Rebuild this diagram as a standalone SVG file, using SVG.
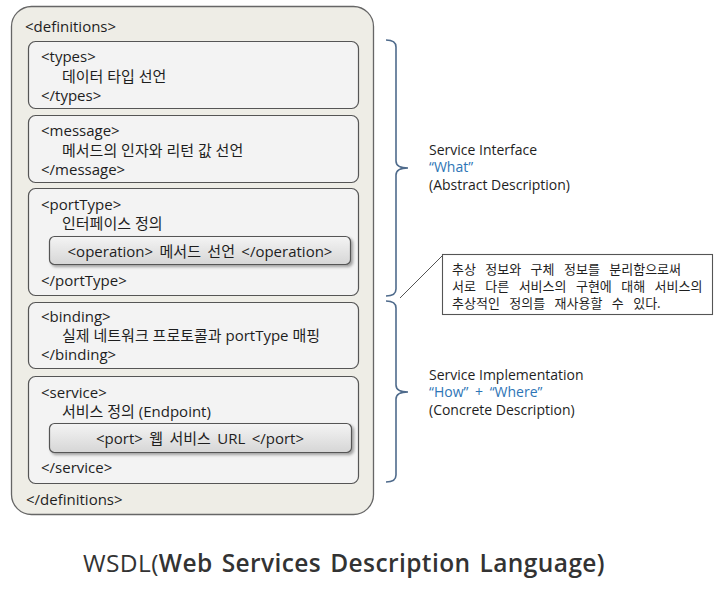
<svg xmlns="http://www.w3.org/2000/svg" width="720" height="592" viewBox="0 0 720 592">
<defs>
<linearGradient id="g" x1="0" y1="0" x2="0" y2="1">
<stop offset="0" stop-color="#f4f4f4"/>
<stop offset="1" stop-color="#d6d6d6"/>
</linearGradient>
<filter id="sh" x="-5%" y="-20%" width="110%" height="150%">
<feGaussianBlur in="SourceAlpha" stdDeviation="1.5"/>
<feOffset dx="1.5" dy="2" result="o"/>
<feComponentTransfer><feFuncA type="linear" slope="0.35"/></feComponentTransfer>
<feMerge><feMergeNode/><feMergeNode in="SourceGraphic"/></feMerge>
</filter>
</defs>
<style>
.t{font-family:"Open Sans","Noto Sans CJK KR",sans-serif;font-size:15px;fill:#1e1e1e}
.w{word-spacing:2.5px}
.r{font-family:"Open Sans","Noto Sans CJK KR",sans-serif;font-size:14px;fill:#1e1e1e}
.q{fill:#2e75b6}
.c{font-family:"Noto Sans CJK KR",sans-serif;font-size:13px;fill:#1e1e1e;word-spacing:6.5px}
.box{fill:#f3f3f3;stroke:#555;stroke-width:1.2}
.op{fill:url(#g);stroke:#555;stroke-width:1.2;filter:url(#sh)}
.br{fill:none;stroke:#4f6b8c;stroke-width:1.6}
</style>
<rect width="720" height="592" fill="#ffffff"/>
<g id="definitions">
<rect x="11.5" y="6.5" width="362" height="508" rx="20" fill="#eeede6" stroke="#666" stroke-width="1.3"/>
<text class="t" x="25" y="32">&lt;definitions&gt;</text>
<text class="t" x="26" y="505">&lt;/definitions&gt;</text>
</g>
<g id="types">
<rect class="box" x="28.5" y="41.5" width="330" height="67" rx="7"/>
<text class="t" x="41" y="62">&lt;types&gt;</text>
<text class="t" x="62" y="82">데이터 타입 선언</text>
<text class="t" x="41" y="101">&lt;/types&gt;</text>
</g>
<g id="message">
<rect class="box" x="28.5" y="115.5" width="330" height="67" rx="7"/>
<text class="t" x="41" y="136">&lt;message&gt;</text>
<text class="t" x="62" y="156">메서드의 인자와 리턴 값 선언</text>
<text class="t" x="41" y="175">&lt;/message&gt;</text>
</g>
<g id="portType">
<rect class="box" x="28.5" y="188.5" width="330" height="107" rx="7"/>
<text class="t" x="41" y="210">&lt;portType&gt;</text>
<text class="t" x="62" y="229">인터페이스 정의</text>
<text class="t" x="41" y="286">&lt;/portType&gt;</text>
</g>
<g id="operation">
<rect class="op" x="49.5" y="236.5" width="301" height="28" rx="5"/>
<text class="t w" x="200" y="257" text-anchor="middle">&lt;operation&gt; 메서드 선언 &lt;/operation&gt;</text>
</g>
<g id="binding">
<rect class="box" x="28.5" y="302.5" width="330" height="66" rx="7"/>
<text class="t" x="41" y="322">&lt;binding&gt;</text>
<text class="t" x="62" y="341">실제 네트워크 프로토콜과 portType 매핑</text>
<text class="t" x="41" y="360">&lt;/binding&gt;</text>
</g>
<g id="service">
<rect class="box" x="28.5" y="376.5" width="330" height="107" rx="7"/>
<text class="t" x="41" y="398">&lt;service&gt;</text>
<text class="t" x="62" y="417">서비스 정의 (Endpoint)</text>
<text class="t" x="41" y="473">&lt;/service&gt;</text>
</g>
<g id="port">
<rect class="op" x="49.5" y="423.5" width="302" height="29" rx="5"/>
<text class="t w" x="200" y="444" text-anchor="middle">&lt;port&gt; 웹 서비스 URL &lt;/port&gt;</text>
</g>
<g id="connectors">
<path class="br" d="M386,40 Q396,40 396,47 V161 Q396,168 408,168 Q396,168 396,175 V289 Q396,296 386,296"/>
<path class="br" d="M386,301 Q396,301 396,308 V385 Q396,392 408,392 Q396,392 396,399 V475 Q396,482 386,482"/>
<line x1="400" y1="298" x2="442" y2="256" stroke="#555" stroke-width="1"/>
</g>
<g id="service-interface">
<text class="r" x="429" y="155">Service Interface</text>
<text class="r q" x="429" y="172">“What”</text>
<text class="r" x="429" y="190">(Abstract Description)</text>
</g>
<g id="service-implementation">
<text class="r" x="429" y="380">Service Implementation</text>
<text class="r" x="429" y="397" word-spacing="3"><tspan class="q">“How”</tspan> <tspan class="q">+</tspan> <tspan class="q">“Where”</tspan></text>
<text class="r" x="429" y="415">(Concrete Description)</text>
</g>
<g id="callout">
<rect x="442.5" y="254.5" width="270" height="60" fill="#ffffff" stroke="#555" stroke-width="1.1"/>
<text class="c" x="452" y="274">추상 정보와 구체 정보를 분리함으로써</text>
<text class="c" x="452" y="291">서로 다른 서비스의 구현에 대해 서비스의</text>
<text class="c" x="452" y="308">추상적인 정의를 재사용할 수 있다.</text>
</g>
<g id="title">
<text x="83" y="572" font-family="'Open Sans','Noto Sans CJK KR',sans-serif" font-size="24.5" fill="#333" letter-spacing="0.4" word-spacing="2.3">WSDL(<tspan font-weight="600">Web Services Description Language)</tspan></text>
</g>
</svg>
